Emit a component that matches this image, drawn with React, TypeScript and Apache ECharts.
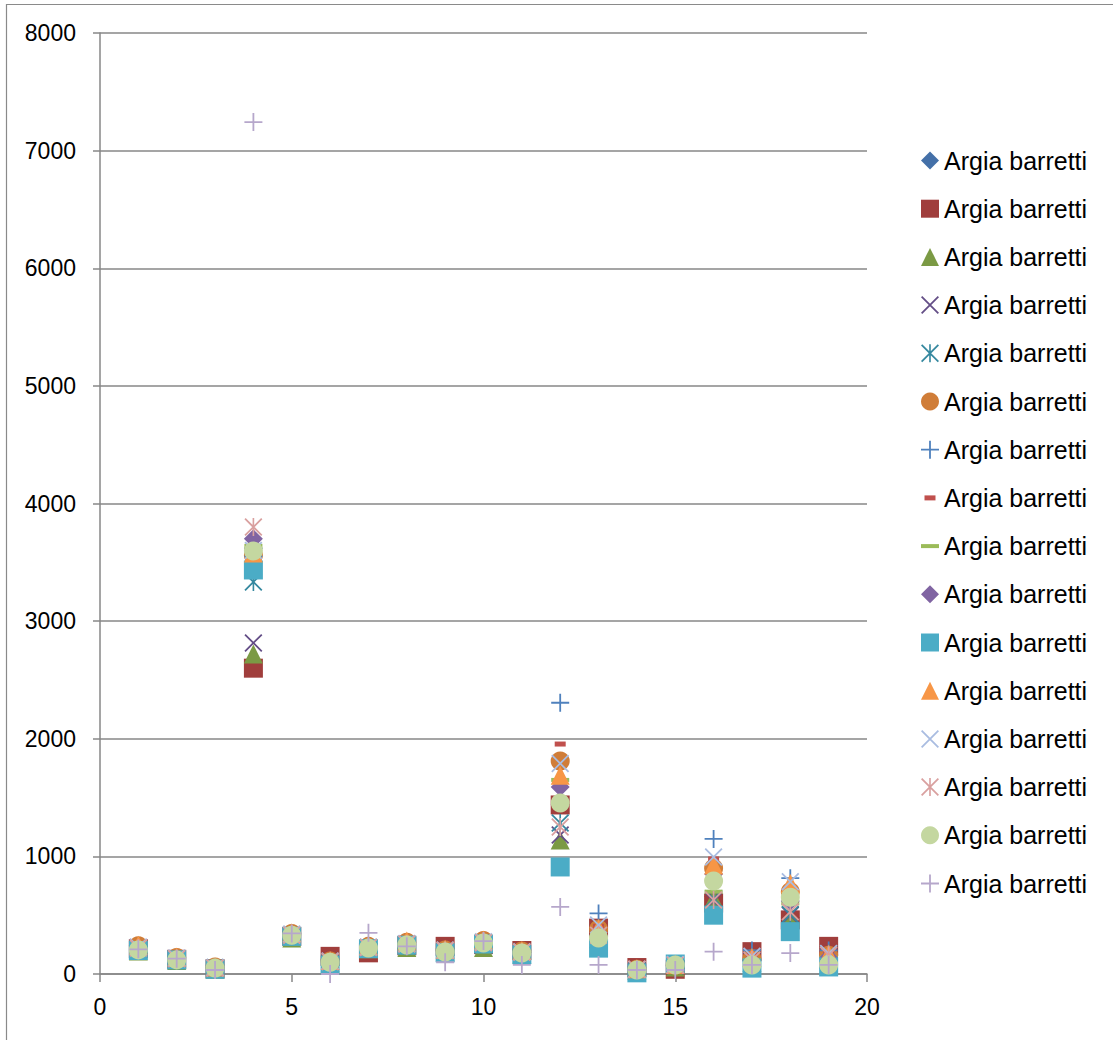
import React, { useEffect, useRef } from "react";
import * as echarts from "echarts";

// x positions (sites)
const xValues = [1, 2, 3, 4, 5, 6, 7, 8, 9, 10, 11, 12, 13, 14, 15, 16, 17, 18, 19];

// y values per series (for x = 1..19)
const s1BlueDiamond = [220, 130, 55, 3620, 340, 110, 225, 250, 200, 270, 185, 1440, 330, 40, 70, 660, 120, 480, 150];
const s2RedSquare = [215, 125, 45, 2600, 320, 150, 180, 240, 235, 250, 200, 1437, 390, 55, 40, 603, 190, 460, 235];
const s3GreenTriangle = [195, 115, 40, 2720, 305, 95, 215, 225, 190, 225, 170, 1140, 300, 30, 60, 640, 100, 480, 130];
const s4PurpleX = [210, 125, 50, 2815, 320, 100, 215, 240, 185, 250, 180, 1182, 330, 35, 70, 620, 110, 500, 150];
const s5TealStar = [220, 130, 55, 3333, 330, 100, 225, 250, 195, 260, 185, 1284, 320, 35, 75, 640, 140, 505, 170];
const s6OrangeCircle = [240, 140, 60, 3560, 345, 110, 235, 270, 205, 285, 195, 1811, 380, 40, 75, 900, 130, 700, 160];
const s7BluePlus = [225, 135, 55, 3550, 335, 110, 230, 255, 200, 275, 190, 2306, 515, 40, 75, 1148, 200, 815, 200];
const s8RedDash = [235, 140, 60, 3550, 340, 120, 230, 265, 210, 280, 200, 1955, 405, 45, 75, 978, 160, 740, 180];
const s9GreenDash = [200, 120, 45, 3640, 315, 100, 220, 230, 190, 235, 175, 1650, 310, 35, 70, 700, 120, 600, 140];
const s10PurpleDiamond = [210, 125, 50, 3700, 325, 100, 220, 245, 195, 255, 180, 1590, 320, 35, 75, 850, 110, 620, 140];
const s11CyanSquare = [200, 120, 40, 3435, 320, 77, 215, 245, 180, 255, 165, 910, 220, 10, 85, 500, 50, 360, 60];
const s12OrangeTriangle = [245, 145, 60, 3580, 350, 115, 240, 280, 210, 290, 200, 1690, 390, 45, 80, 927, 140, 770, 170];
const s13LightBlueX = [230, 135, 55, 3600, 340, 110, 230, 260, 205, 275, 190, 1790, 417, 40, 80, 995, 150, 785, 175];
const s14PinkStar = [220, 130, 50, 3800, 330, 105, 225, 255, 200, 265, 185, 1250, 330, 40, 75, 630, 120, 530, 160];
const s15LightGreenCircle = [205, 120, 50, 3597, 330, 100, 220, 246, 187, 263, 178, 1454, 306, 34, 77, 790, 77, 653, 77];
const s16LavenderPlus = [210, 130, 34, 7243, 345, 0, 350, 235, 100, 280, 77, 570, 77, 34, 34, 190, 77, 178, 77];

const seriesName = "Argia barretti";
const yTicks = [0, 1000, 2000, 3000, 4000, 5000, 6000, 7000, 8000];
const xTicks = [0, 5, 10, 15, 20];

const PLUS = "path://M0,9L20,9L20,11L0,11ZM9,0L11,0L11,20L9,20Z";
const CROSS = "path://M0,1.4L1.4,0L20,18.6L18.6,20ZM18.6,0L20,1.4L1.4,20L0,18.6Z";
const STAR =
  "path://M0,1.4L1.4,0L20,18.6L18.6,20ZM18.6,0L20,1.4L1.4,20L0,18.6ZM9.1,0L10.9,0L10.9,20L9.1,20Z";
const SHORT_DASH = "path://M0,0M18,18M3.5,6.5L14.5,6.5L14.5,11.5L3.5,11.5Z";
const LONG_DASH = "path://M0,0L18,0L18,4L0,4Z";

const seriesDefs = [
  { data: s1BlueDiamond, symbol: "diamond", size: 19, color: "#4470A8" },
  { data: s2RedSquare, symbol: "rect", size: 19, color: "#A03E3C" },
  { data: s3GreenTriangle, symbol: "triangle", size: 19, color: "#7B9A44" },
  { data: s4PurpleX, symbol: CROSS, size: 18, color: "#634D86" },
  { data: s5TealStar, symbol: STAR, size: 18, color: "#35889F" },
  { data: s6OrangeCircle, symbol: "circle", size: 19, color: "#D07D38" },
  { data: s7BluePlus, symbol: PLUS, size: 18, color: "#4F81BD" },
  { data: s8RedDash, symbol: SHORT_DASH, size: 18, color: "#C0504D" },
  { data: s9GreenDash, symbol: LONG_DASH, size: [18, 4], color: "#9BBB59" },
  { data: s10PurpleDiamond, symbol: "diamond", size: 19, color: "#8064A2" },
  { data: s11CyanSquare, symbol: "rect", size: 19, color: "#4BACC6" },
  { data: s12OrangeTriangle, symbol: "triangle", size: 19, color: "#F79646" },
  { data: s13LightBlueX, symbol: CROSS, size: 18, color: "#A9BCE1" },
  { data: s14PinkStar, symbol: STAR, size: 18, color: "#D9A09F" },
  { data: s15LightGreenCircle, symbol: "circle", size: 19, color: "#C4D7A0" },
  { data: s16LavenderPlus, symbol: PLUS, size: 18, color: "#B6A7CB" },
];

const FONT = "Liberation Sans";

export default function App() {
  const ref = useRef<HTMLDivElement>(null);

  useEffect(() => {
    if (!ref.current) return;
    const chart = echarts.init(ref.current, undefined, { renderer: "svg" });
    const series = seriesDefs.map((d, i) => ({
      name: "s" + (i + 1),
      type: "scatter",
      symbol: d.symbol,
      symbolSize: d.size,
      itemStyle: { color: d.color, opacity: 1 },
      data: xValues.map((x, j) => [x, d.data[j]]),
      z: 2,
    }));
    chart.setOption({
      animation: false,
      backgroundColor: "#ffffff",
      graphic: [
        {
          type: "rect",
          shape: { x: 6.5, y: 4.5, width: 1200, height: 1100 },
          style: { fill: "none", stroke: "#8a8a8a", lineWidth: 1.2 },
          silent: true,
        },
      ],
      grid: { left: 100, top: 33, width: 767, height: 941, containLabel: false },
      xAxis: {
        type: "value",
        min: xTicks[0],
        max: xTicks[xTicks.length - 1],
        interval: 5,
        splitLine: { show: false },
        axisLine: { show: true, onZero: false, lineStyle: { color: "#878787", width: 1.5 } },
        axisTick: { show: true, length: 8, lineStyle: { color: "#878787", width: 1.5 } },
        axisLabel: {
          margin: 21,
          fontFamily: FONT,
          fontSize: 23,
          color: "#000",
          formatter: (v: number) => String(v),
        },
      },
      yAxis: {
        type: "value",
        min: yTicks[0],
        max: yTicks[yTicks.length - 1],
        interval: 1000,
        splitLine: { show: true, lineStyle: { color: "#878787", width: 1.5 } },
        axisLine: { show: true, lineStyle: { color: "#878787", width: 1.5 } },
        axisTick: { show: true, length: 7, lineStyle: { color: "#878787", width: 1.5 } },
        axisLabel: {
          margin: 24,
          fontFamily: FONT,
          fontSize: 23,
          color: "#000",
          formatter: (v: number) => String(v),
        },
      },
      legend: {
        orient: "vertical",
        left: 921,
        top: 148,
        itemWidth: 18,
        itemHeight: 18,
        itemGap: 23.2,
        padding: 0,
        formatter: () => seriesName,
        textStyle: { fontFamily: FONT, fontSize: 25, color: "#000", lineHeight: 24 },
        data: series.map((s) => s.name),
      },
      series,
    });
    return () => chart.dispose();
  }, []);

  return (
    <div
      ref={ref}
      style={{ position: "fixed", left: 0, top: 0, width: 1113, height: 1040, background: "#fff" }}
    />
  );
}
